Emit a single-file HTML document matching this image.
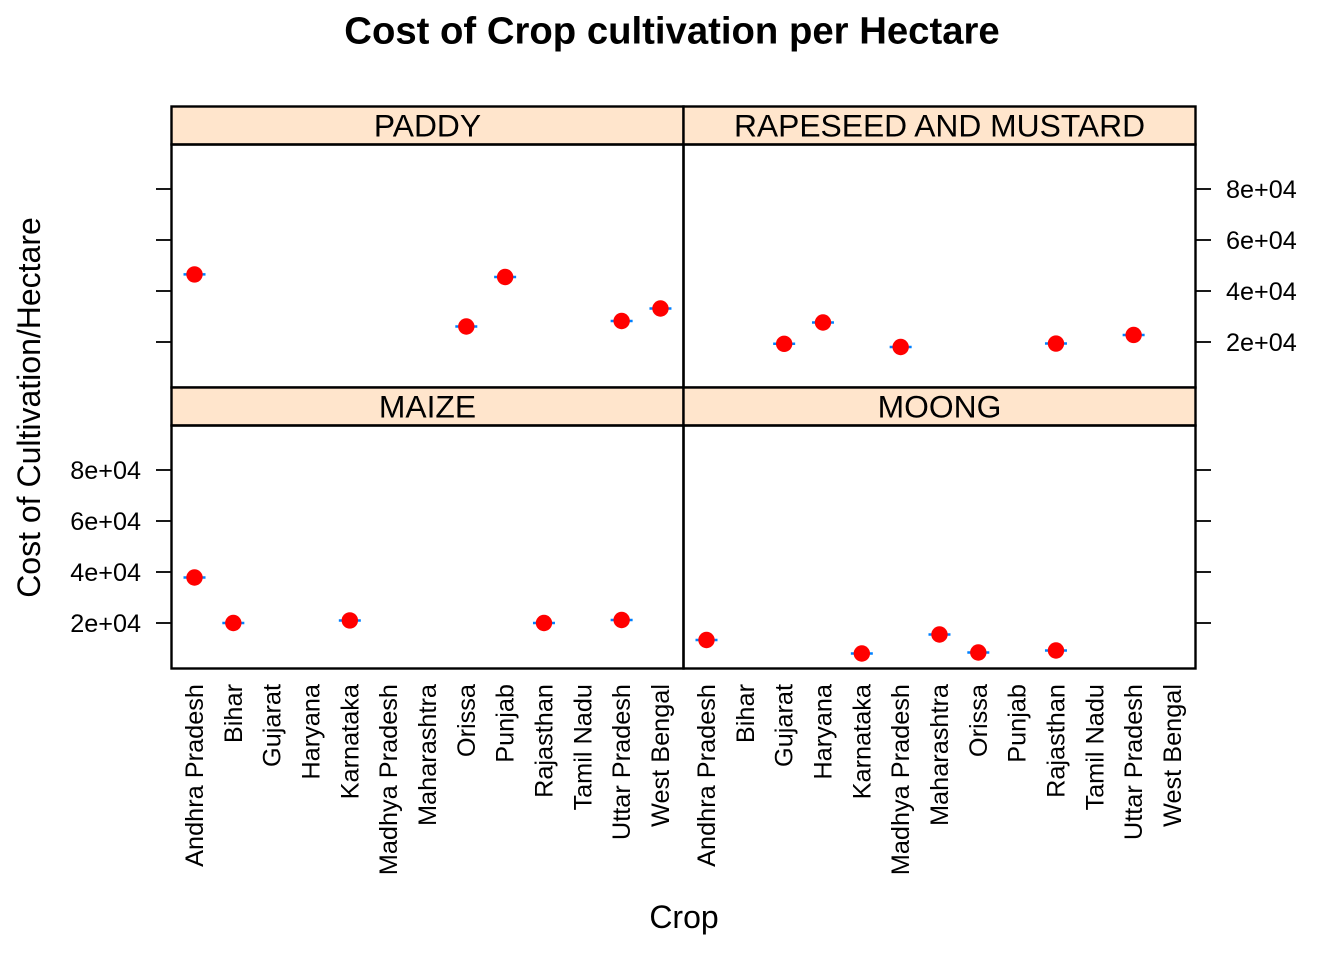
<!DOCTYPE html>
<html>
<head>
<meta charset="utf-8">
<title>Cost of Crop cultivation per Hectare</title>
<style>
html,body{margin:0;padding:0;background:#fff;width:1344px;height:960px;overflow:hidden}
svg{display:block}
text{font-family:"Liberation Sans",Arial,sans-serif;fill:#000}
</style>
</head>
<body>
<svg id="chart" xmlns="http://www.w3.org/2000/svg" width="1344" height="960" viewBox="0 0 1344 960">
<text x="672" y="43.5" font-size="38.3" font-weight="bold" text-anchor="middle">Cost of Crop cultivation per Hectare</text>
<text x="684" y="928" font-size="32" text-anchor="middle">Crop</text>
<text transform="translate(40,407.5) rotate(-90)" font-size="32" text-anchor="middle">Cost of Cultivation/Hectare</text>
</svg>
<script>
const states = ["Andhra Pradesh","Bihar","Gujarat","Haryana","Karnataka","Madhya Pradesh","Maharashtra","Orissa","Punjab","Rajasthan","Tamil Nadu","Uttar Pradesh","West Bengal"];
const yTicks = [20000,40000,60000,80000];
const yTickLabels = ["2e+04","4e+04","6e+04","8e+04"];
const paddyValues = [46500,null,null,null,null,null,null,26080,45490,null,null,28240,33140];
const rapeseedValues = [null,null,19300,27650,null,18040,null,null,null,19400,null,22750,null];
const maizeValues = [37840,20000,null,null,21000,null,null,null,null,20000,null,21180,null];
const moongValues = [13330,null,null,null,8040,null,15490,8430,null,9220,null,null,null];
const panelNames = ["PADDY","RAPESEED AND MUSTARD","MAIZE","MOONG"];

const svg = document.getElementById('chart');
const NS = 'http://www.w3.org/2000/svg';
function make(tag, attrs, parent){
  const el = document.createElementNS(NS, tag);
  for (const k in attrs) el.setAttribute(k, attrs[k]);
  (parent || svg).appendChild(el);
  return el;
}
const COL_LEFT = [171.5, 683.5];
const COL_W = 512;
const ROW_TOP = [106.5, 387.5];
const STRIP_H = 38;
const PANEL_H = 243;
function xScale(col, i){ return COL_LEFT[col] + 23 + i * 38.83; }
function yScale(row, v){ return (row === 0 ? 342 : 623) - (v - 20000) * 51 / 20000; }

const panels = [
  {name: panelNames[0], slug: 'paddy', col: 0, row: 0, values: paddyValues},
  {name: panelNames[1], slug: 'rapeseed', col: 1, row: 0, values: rapeseedValues},
  {name: panelNames[2], slug: 'maize', col: 0, row: 1, values: maizeValues},
  {name: panelNames[3], slug: 'moong', col: 1, row: 1, values: moongValues}
];

panels.forEach(function(p){
  const x0 = COL_LEFT[p.col], t = ROW_TOP[p.row];
  const g = make('g', {});
  
  
  const strip = make('rect', {x: x0, y: t, width: COL_W, height: STRIP_H, fill: '#ffe5cc', stroke: 'none'}, g);
  
  
  const label = make('text', {x: x0 + COL_W / 2, y: t + 30, 'font-size': 31.8, 'text-anchor': 'middle'}, g);
  
  
  label.textContent = p.name;
  p.values.forEach(function(v, i){
    if (v === null) return;
    const cx = xScale(p.col, i), cy = yScale(p.row, v);
    const dash = make('line', {x1: cx - 11, x2: cx + 11, y1: cy, y2: cy, stroke: '#0080ff', 'stroke-width': 2.5}, g);
    
    
    const pt = make('circle', {cx: cx, cy: cy, r: 8.2, fill: '#ff0000'}, g);
    
    
  });
  const box1 = make('rect', {x: x0, y: t, width: COL_W, height: STRIP_H, fill: 'none', stroke: '#000', 'stroke-width': 2.4}, g);
  
  
  const box2 = make('rect', {x: x0, y: t + STRIP_H, width: COL_W, height: PANEL_H, fill: 'none', stroke: '#000', 'stroke-width': 2.4}, g);
  
  
});

// y axis ticks: every row has ticks on both outer sides, labels alternate
[0, 1].forEach(function(row){
  yTicks.forEach(function(v, i){
    const y = yScale(row, v);
    const lt = make('line', {x1: 156, x2: 171.5, y1: y, y2: y, stroke: '#000', 'stroke-width': 1.8});
    
    
    const rt = make('line', {x1: 1195.5, x2: 1211, y1: y, y2: y, stroke: '#000', 'stroke-width': 1.8});
    
    
    const lab = make('text', {
      x: row === 0 ? 1226 : 141,
      y: y + 9,
      'font-size': 25.2,
      'text-anchor': row === 0 ? 'start' : 'end'
    });
    
    
    lab.textContent = yTickLabels[i];
  });
});

// x axis labels, rotated
[0, 1].forEach(function(col){
  states.forEach(function(s, i){
    const x = xScale(col, i) + 8.5;
    const lab = make('text', {
      transform: 'translate(' + x + ',684) rotate(-90)',
      'font-size': 25.3,
      'text-anchor': 'end'
    });
    
    
    lab.textContent = s;
  });
});
</script>
</body>
</html>
